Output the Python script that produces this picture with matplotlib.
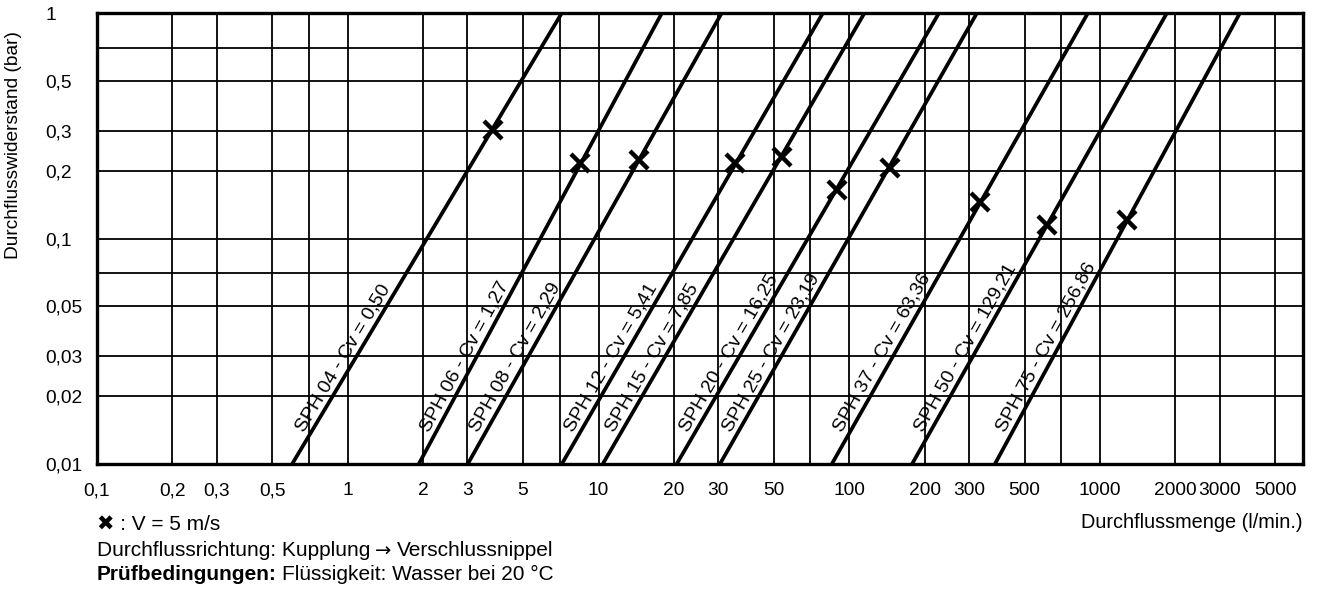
import numpy as np
import matplotlib.pyplot as plt
from matplotlib.ticker import FixedLocator, FixedFormatter, NullFormatter

plt.rcParams['font.family'] = ['Liberation Sans', 'DejaVu Sans']

# Kupplungsgroessen und Cv-Werte
sizes = ['04', '06', '08', '12', '15', '20', '25', '37', '50', '75']
cv = ['0,50', '1,27', '2,29', '5,41', '7,85', '16,25', '23,19', '63,36', '129,21', '256,86']

# Durchflussmenge (l/min) an der unteren (0,01 bar) und oberen (1 bar) Kante
dp_low, dp_high = 0.01, 1.0
q_low = [0.60, 1.92, 3.01, 7.14, 10.4, 20.5, 30.5, 85.2, 178, 381]
q_high = [7.14, 17.9, 31.0, 78.5, 115, 228, 323, 895, 1848, 3614]

# Punkte bei V = 5 m/s
mark_q = [3.79, 8.42, 14.5, 35.0, 53.8, 89.2, 145, 332, 614, 1280]
mark_dp = [0.303, 0.216, 0.223, 0.216, 0.230, 0.164, 0.205, 0.145, 0.115, 0.121]

# Achsen
x_ticks = [0.1, 0.2, 0.3, 0.5, 1, 2, 3, 5, 10, 20, 30, 50, 100, 200, 300, 500,
           1000, 2000, 3000, 5000]
x_labels = ['0,1', '0,2', '0,3', '0,5', '1', '2', '3', '5', '10', '20', '30', '50',
            '100', '200', '300', '500', '1000', '2000', '3000', '5000']
x_minor = [0.7, 7, 70, 700]
y_ticks = [0.01, 0.02, 0.03, 0.05, 0.1, 0.2, 0.3, 0.5, 1]
y_labels = ['0,01', '0,02', '0,03', '0,05', '0,1', '0,2', '0,3', '0,5', '1']
y_minor = [0.07, 0.7]

W, H = 1319, 589
fig = plt.figure(figsize=(W / 100, H / 100), dpi=100)
ax = fig.add_axes([97 / W, 1 - 464 / H, (1303 - 97) / W, (464 - 13) / H])
ax.set_xscale('log')
ax.set_yscale('log')
ax.set_xlim(0.1, 6450)
ax.set_ylim(0.01, 1)

ax.xaxis.set_major_locator(FixedLocator(x_ticks))
ax.xaxis.set_major_formatter(FixedFormatter(x_labels))
ax.xaxis.set_minor_locator(FixedLocator(x_minor))
ax.xaxis.set_minor_formatter(NullFormatter())
ax.yaxis.set_major_locator(FixedLocator(y_ticks))
ax.yaxis.set_major_formatter(FixedFormatter(y_labels))
ax.yaxis.set_minor_locator(FixedLocator(y_minor))
ax.yaxis.set_minor_formatter(NullFormatter())

ax.grid(True, which='both', color='black', lw=1.3)
ax.set_axisbelow(True)
ax.tick_params(which='both', length=0)
ax.tick_params(axis='x', labelsize=13.8, pad=13)
ax.tick_params(axis='y', labelsize=13.8, pad=37)
for lab in ax.get_yticklabels():
    lab.set_horizontalalignment('left')
for sp in ax.spines.values():
    sp.set_linewidth(2.4)

# Kennlinien
label_dp = 0.0137
for i in range(len(sizes)):
    ax.plot([q_low[i], q_high[i]], [dp_low, dp_high], color='black', lw=2.7,
            solid_capstyle='butt')
    p0 = ax.transData.transform((q_low[i], dp_low))
    p1 = ax.transData.transform((q_high[i], dp_high))
    ang = np.degrees(np.arctan2(p1[1] - p0[1], p1[0] - p0[0]))
    frac = np.log(label_dp / dp_low) / np.log(dp_high / dp_low)
    q_lab = q_low[i] * (q_high[i] / q_low[i]) ** frac
    ax.annotate('SPH ' + sizes[i] + ' - Cv = ' + cv[i], xy=(q_lab, label_dp),
                xytext=(-7, 0), textcoords='offset pixels', rotation=ang,
                rotation_mode='anchor', ha='left', va='baseline', fontsize=14)

ax.plot(mark_q, mark_dp, 'x', color='black', ms=13, mew=3.2)

# Beschriftungen
fig.text(14 / W, 1 - 145 / H, 'Durchflusswiderstand (bar)', rotation=90,
         ha='center', va='center', fontsize=13.8)
fig.text(1303 / W, 1 - 523 / H, 'Durchflussmenge (l/min.)', ha='right',
         va='center', fontsize=14.3)

fig.text(97 / W, 1 - 525 / H, '\u2716 : V = 5 m/s', ha='left', va='center',
         fontsize=15)

# Zeilen aus mehreren Teilen zusammensetzen
renderer = fig.canvas.get_renderer()


def text_row(parts, y, x=97):
    for s, kw in parts:
        opts = {'fontsize': 15}
        opts.update(kw)
        t = fig.text(x / W, 1 - y / H, s, ha='left', va='center', **opts)
        bb = t.get_window_extent(renderer)
        x = bb.x1 + 5


text_row([('Durchflussrichtung: Kupplung', {}),
          ('\u2192', {'family': 'DejaVu Sans', 'fontsize': 14}),
          ('Verschlussnippel', {})], 551)
text_row([('Prüfbedingungen:', {'fontweight': 'bold'}),
          ('Flüssigkeit: Wasser bei 20 °C', {})], 574)

fig.savefig('out.png', dpi=100)
